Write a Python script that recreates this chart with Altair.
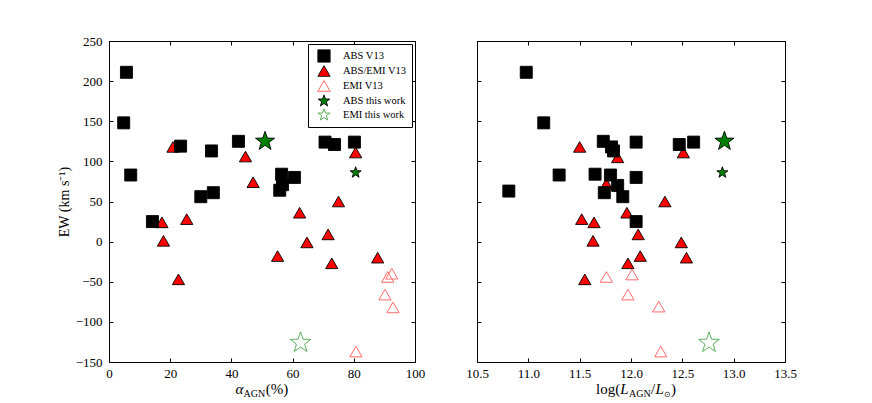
import math
import altair as alt
import pandas as pd

SERIES = ["ABS V13", "ABS/EMI V13", "EMI V13", "ABS this work", "EMI this work"]

# ---------------- left panel: alpha_AGN (%) ----------------
l_abs_x = [5.7, 4.8, 7.1, 23.4, 33.5, 42.3, 30.0, 34.1, 14.2, 56.4, 56.7, 55.8, 60.6, 70.6, 73.7, 80.2]
l_abs_y = [211, 148, 83, 119, 113, 125, 56, 61, 25, 84, 71, 64, 80, 124, 121, 124]

l_absemi_x = [20.9, 44.6, 47.1, 62.3, 75.0, 80.6, 17.3, 25.4, 17.8, 22.7, 55.1, 71.6, 64.7, 72.8, 87.8]
l_absemi_y = [118, 106, 74, 36, 50, 111, 24, 28, 1, -47, -18, 9, -1, -27, -20]

l_emi_x = [92.4, 91.1, 90.2, 92.8, 80.7]
l_emi_y = [-40, -44, -66, -82, -137]

l_abs_tw_x = [51.0, 80.6]
l_abs_tw_y = [125, 86]

l_emi_tw_x = [62.6]
l_emi_tw_y = [-126]

# ---------------- right panel: log(L_AGN / L_sun) ----------------
r_abs_x = [10.98, 11.15, 11.73, 11.81, 11.83, 12.05, 12.47, 12.61, 11.30, 11.65, 11.80, 12.05,
           10.81, 11.74, 11.87, 11.92, 12.05]
r_abs_y = [211, 148, 125, 118, 113, 124, 121, 124, 83, 84, 83, 80, 63, 61, 70, 56, 25]

r_absemi_x = [11.50, 11.87, 12.51, 11.76, 12.33, 11.96, 11.52, 11.64, 11.63, 12.07, 12.49, 12.09,
              12.54, 11.97, 11.55]
r_absemi_y = [118, 105, 111, 72, 50, 36, 28, 24, 1, 9, -1, -18, -20, -27, -47]

r_emi_x = [11.76, 12.01, 11.97, 12.27, 12.29]
r_emi_y = [-44, -41, -66, -81, -137]

r_abs_tw_x = [12.91, 12.89]
r_abs_tw_y = [125, 86]

r_emi_tw_x = [12.76]
r_emi_tw_y = [-126]

# marker sizes (style)
SZ_SQUARE = 144
SZ_TRI = 150
SZ_STAR_TW = [400, 135]
SZ_STAR_OPEN = 470

# star path in the unit box
pts = []
for k in range(10):
    r = 1.0 if k % 2 == 0 else 0.4
    a = math.radians(-90 + 36 * k)
    pts.append(f"{r * math.cos(a):.4f},{r * math.sin(a):.4f}")
STAR = "M" + " L".join(pts) + " Z"

SHAPES = ["square", "triangle-up", "triangle-up", STAR, STAR]
FILLS = ["black", "#ff0000", "transparent", "#008000", "transparent"]
STROKES = ["black", "black", "#ff5a5a", "black", "#4ca64c"]

FONT = "Liberation Serif"


def build_df(absx, absy, aex, aey, emx, emy, atx, aty, etx, ety):
    rows = []
    for x, y in zip(aex, aey):
        rows.append(dict(series="ABS/EMI V13", x=x, y=y, size=SZ_TRI))
    for x, y in zip(emx, emy):
        rows.append(dict(series="EMI V13", x=x, y=y, size=SZ_TRI))
    for x, y in zip(absx, absy):
        rows.append(dict(series="ABS V13", x=x, y=y, size=SZ_SQUARE))
    for x, y, s in zip(atx, aty, SZ_STAR_TW):
        rows.append(dict(series="ABS this work", x=x, y=y, size=s))
    for x, y in zip(etx, ety):
        rows.append(dict(series="EMI this work", x=x, y=y, size=SZ_STAR_OPEN))
    return pd.DataFrame(rows)


df_l = build_df(l_abs_x, l_abs_y, l_absemi_x, l_absemi_y, l_emi_x, l_emi_y,
                l_abs_tw_x, l_abs_tw_y, l_emi_tw_x, l_emi_tw_y)
df_r = build_df(r_abs_x, r_abs_y, r_absemi_x, r_absemi_y, r_emi_x, r_emi_y,
                r_abs_tw_x, r_abs_tw_y, r_emi_tw_x, r_emi_tw_y)

Y_DOMAIN = [-150, 250]
Y_TICKS = [-150, -100, -50, 0, 50, 100, 150, 200, 250]
L_DOMAIN = [0, 100]
L_TICKS = [0, 20, 40, 60, 80, 100]
R_DOMAIN = [10.5, 13.5]
R_TICKS = [10.5, 11.0, 11.5, 12.0, 12.5, 13.0, 13.5]


def tick_axis(orient, values):
    return alt.Axis(orient=orient, values=values, labels=False, domain=False, grid=False,
                    ticks=True, tickSize=4, offset=-4, title=None, tickColor="black",
                    tickWidth=1)


def text_piece(txt, x, y, size=15, italic=False):
    kw = dict(text=txt, font=FONT, fontSize=size, align="left", baseline="alphabetic",
              color="black")
    if italic:
        kw["fontStyle"] = "italic"
    return alt.Chart(pd.DataFrame({"k": [0]})).mark_text(**kw).encode(
        x=alt.value(x), y=alt.value(y))


def panel(df, xdom, xticks, xfmt, show_y, show_legend, title_pieces, width):
    xs = alt.Scale(domain=xdom, nice=False, zero=False)
    ys = alt.Scale(domain=Y_DOMAIN, nice=False, zero=False)
    if show_legend:
        leg = alt.Legend(title=None, orient="top-right", offset=3, strokeColor="black",
                         fillColor="white", padding=5, symbolOffset=4, symbolSize=150,
                         symbolStrokeWidth=0.9, labelFont=FONT, labelFontSize=10.5,
                         labelColor="black", rowPadding=-3, labelOffset=12, cornerRadius=0)
    else:
        leg = None
    if show_y:
        yaxis = alt.Axis(orient="left", values=Y_TICKS, ticks=False, tickSize=0, domain=False,
                         grid=False, labelPadding=7, title="EW (km s⁻¹)", titlePadding=4,
                         labelFontSize=13)
    else:
        yaxis = None
    main = alt.Chart(df).mark_point(opacity=1, strokeWidth=0.9).encode(
        x=alt.X("x:Q", scale=xs,
                axis=alt.Axis(orient="bottom", values=xticks, format=xfmt, ticks=False,
                              tickSize=0, domain=False, grid=False, labelPadding=5,
                              labelFlush=False, title=None, labelFontSize=13)),
        y=alt.Y("y:Q", scale=ys, axis=yaxis),
        shape=alt.Shape("series:N", scale=alt.Scale(domain=SERIES, range=SHAPES), legend=leg),
        fill=alt.Fill("series:N", scale=alt.Scale(domain=SERIES, range=FILLS), legend=leg),
        stroke=alt.Stroke("series:N", scale=alt.Scale(domain=SERIES, range=STROKES), legend=leg),
        size=alt.Size("size:Q", scale=None, legend=None),
    )
    t1 = alt.Chart(df).mark_point(opacity=0).encode(
        x=alt.X("x:Q", scale=xs, axis=tick_axis("bottom", xticks)),
        y=alt.Y("y:Q", scale=ys, axis=tick_axis("left", Y_TICKS)),
    )
    t2 = alt.Chart(df).mark_point(opacity=0).encode(
        x=alt.X("x:Q", scale=xs, axis=tick_axis("top", xticks)),
        y=alt.Y("y:Q", scale=ys, axis=tick_axis("right", Y_TICKS)),
    )
    texts = [text_piece(*p) for p in title_pieces]
    return alt.layer(main, t1, t2, *texts).resolve_axis(
        x="independent", y="independent").properties(width=width, height=321)


left_title = [
    ("α", 126.5, 353, 15, True),
    ("AGN", 134.6, 356, 10, False),
    ("(%)", 156.8, 353, 15, False),
]
right_title = [
    ("log(", 119, 353, 15, False),
    ("L", 143.3, 353, 15, True),
    ("AGN", 152, 356, 10, False),
    ("/", 174, 353, 15, False),
    ("L", 178.5, 353, 15, True),
    ("⊙", 187, 356, 8, False),
    (")", 194, 353, 15, False),
]

left = panel(df_l, L_DOMAIN, L_TICKS, "d", True, True, left_title, 306)
right = panel(df_r, R_DOMAIN, R_TICKS, ".1f", False, False, right_title, 308)

chart = alt.hconcat(left, right, spacing=39).resolve_scale(
    x="independent", y="independent", shape="independent", fill="independent",
    stroke="independent"
).resolve_legend(
    shape="independent", fill="independent", stroke="independent"
).properties(
    padding={"left": 48, "top": 26, "right": 5, "bottom": 5},
    background="white",
).configure_view(
    stroke="black", strokeWidth=1
).configure_axis(
    labelFont=FONT, titleFont=FONT, labelColor="black", titleColor="black",
    titleFontWeight="normal", labelFontSize=13, titleFontSize=14
)

chart.save("out.html", embed_options={"renderer": "svg", "actions": False})
